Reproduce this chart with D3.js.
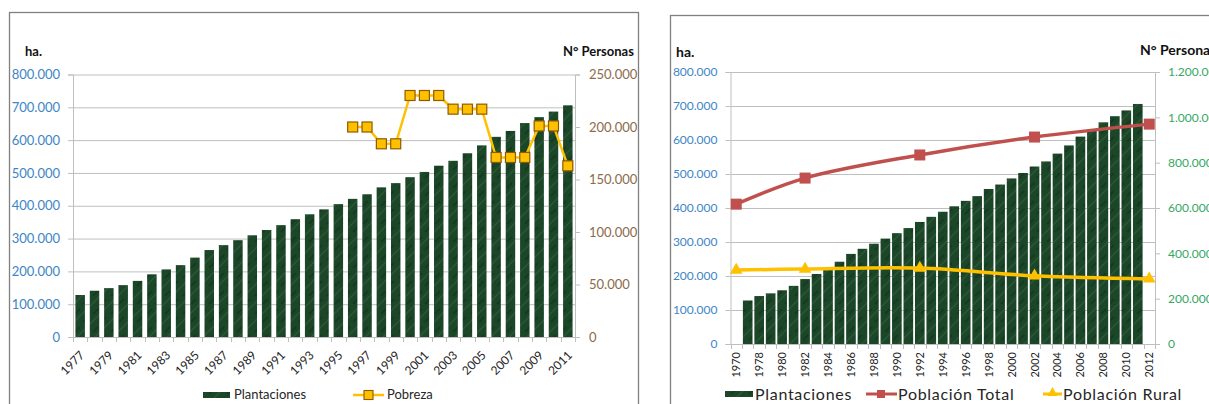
<!DOCTYPE html>
<html>
<head>
<meta charset="utf-8">
<script src="https://cdn.jsdelivr.net/npm/d3@7"></script>
<style>
body { margin: 0; background: #fff; }
svg { font-family: Lato, "Open Sans", sans-serif; display: block; }
</style>
</head>
<body>
<svg id="chart" width="1209" height="404"></svg>
<script>

// ---- data ----
var aYearsLeft = ['1977','1978','1979','1980','1981','1982','1983','1984','1985','1986','1987','1988',
	'1989','1990','1991','1992','1993','1994','1995','1996','1997','1998','1999','2000','2001','2002',
	'2003','2004','2005','2006','2007','2008','2009','2010','2011'];

var aPlantaciones = [128000,141000,149000,158000,171000,191000,206000,219000,242000,265000,280000,295000,
	310000,326000,341000,359000,374000,389000,405000,421000,435000,456000,469000,487000,503000,522000,
	537000,560000,584000,610000,628000,652000,670000,687000,706000];

var aPobrezaYears = ['1996','1997','1998','1999','2000','2001','2002','2003','2004','2005','2006','2007',
	'2008','2009','2010','2011'];
var aPobreza = [200000,200000,184000,184000,230000,230000,230000,217000,217000,217000,171000,171000,
	171000,201000,201000,163000];

var aYearsRight = ['1970','1977','1978','1979','1980','1981','1982','1983','1984','1985','1986','1987','1988',
	'1989','1990','1991','1992','1993','1994','1995','1996','1997','1998','1999','2000','2001','2002',
	'2003','2004','2005','2006','2007','2008','2009','2010','2011','2012'];

var aCensusYears = ['1970','1982','1992','2002','2012'];
var aPoblacionTotal = [617000,732000,834000,913000,970000];
var aPoblacionRural = [326000,331000,335000,301000,287000];

var aTicksHa = [0,100000,200000,300000,400000,500000,600000,700000,800000];
var aTicksPobreza = [0,50000,100000,150000,200000,250000];
var aTicksPersonas = [0,200000,400000,600000,800000,1000000,1200000];

// ---- setup ----
var sSvg = d3.select('#chart');
var fmt = d3.formatLocale({decimal: ',', thousands: '.', grouping: [3], currency: ['', '']}).format(',.0f');

const strGrid = '#bfbfbf';
const strAxis = '#bfbfbf';
const strBlue = '#3d85c6';
const strBrown = '#8c6a4a';
const strGreenText = '#35a765';
const strGold = '#ffc000';
const strRed = '#c0504d';
const strLegendText = '#262626';

var sDefs = sSvg.append('defs');
var sPattern = sDefs.append('pattern')
	.attr('id', 'texture')
	.attr('patternUnits', 'userSpaceOnUse')
	.attr('width', 18)
	.attr('height', 18);
sPattern.append('rect').attr('width', 18).attr('height', 18).attr('fill', '#1c4628');
sPattern.append('path')
	.attr('d', 'M0,18 L18,0 M-4,4 L4,-4 M14,22 L22,14')
	.attr('stroke', '#3d6e4a').attr('stroke-width', 1.5).attr('opacity', 0.4);
sPattern.append('path')
	.attr('d', 'M3,8 L8,3 M11,16 L16,11')
	.attr('stroke', '#0e2e17').attr('stroke-width', 2.2).attr('opacity', 0.5);

function DrawGrid(sG, scaleY, aTicks, nX1, nX2)
{
	sG.append('g')
		.selectAll('line')
		.data(aTicks)
		.enter()
		.append('line')
			.attr('x1', nX1)
			.attr('x2', nX2)
			.attr('y1', function(d) { return scaleY(d) + 0.5; })
			.attr('y2', function(d) { return scaleY(d) + 0.5; })
			.attr('stroke', strGrid)
			.attr('stroke-width', 1);
}

function StyleAxis(sAxis, strColor, nFontSize)
{
	sAxis.select('.domain').attr('stroke', strAxis);
	sAxis.selectAll('.tick line').attr('stroke', strAxis);
	sAxis.selectAll('.tick text')
		.attr('fill', strColor)
		.style('font-size', nFontSize + 'px')
		.style('font-family', 'Lato, "Open Sans", sans-serif');
}

function DrawCategoryTicks(sG, scaleX, nY)
{
	var nStep = scaleX.step();
	var nX0 = scaleX.range()[0];
	var aIdx = d3.range(scaleX.domain().length + 1);
	sG.append('g')
		.selectAll('line')
		.data(aIdx)
		.enter()
		.append('line')
			.attr('x1', function(i) { return Math.round(nX0 + i * nStep) + 0.5; })
			.attr('x2', function(i) { return Math.round(nX0 + i * nStep) + 0.5; })
			.attr('y1', nY)
			.attr('y2', nY + 5)
			.attr('stroke', strAxis);
	sG.append('line')
		.attr('x1', scaleX.range()[0])
		.attr('x2', scaleX.range()[1])
		.attr('y1', nY + 0.5)
		.attr('y2', nY + 0.5)
		.attr('stroke', strAxis);
}

// =========================== left chart ===========================
var sLeft = sSvg.append('g').attr('class', 'chart-left');

sLeft.append('rect')
	.attr('x', 9.5).attr('y', 12.5)
	.attr('width', 629).attr('height', 440)
	.attr('fill', 'none')
	.attr('stroke', '#808080')
	.attr('stroke-width', 1.3);

var nL_X1 = 73, nL_X2 = 575, nL_Top = 74.5, nL_Bottom = 337;

var scaleXL = d3.scaleBand()
	.domain(aYearsLeft)
	.range([nL_X1, nL_X2])
	.paddingInner(0.34)
	.paddingOuter(0.17);

var scaleYL = d3.scaleLinear().domain([0, 800000]).range([nL_Bottom, nL_Top]);
var scaleYL2 = d3.scaleLinear().domain([0, 250000]).range([nL_Bottom, nL_Top]);

DrawGrid(sLeft, scaleYL, aTicksHa.slice(1), nL_X1, nL_X2);

var sAxisYL = sLeft.append('g')
	.attr('transform', 'translate(' + nL_X1 + ',0)')
	.call(d3.axisLeft(scaleYL).tickValues(aTicksHa).tickFormat(fmt).tickSize(5).tickPadding(8));
StyleAxis(sAxisYL, strBlue, 13);

var sAxisYL2 = sLeft.append('g')
	.attr('transform', 'translate(' + nL_X2 + ',0)')
	.call(d3.axisRight(scaleYL2).tickValues(aTicksPobreza).tickFormat(fmt).tickSize(5).tickPadding(9));
StyleAxis(sAxisYL2, strBrown, 13);

sLeft.append('g')
	.selectAll('rect')
	.data(aPlantaciones)
	.enter()
	.append('rect')
		.attr('x', function(d, i) { return scaleXL(aYearsLeft[i]); })
		.attr('y', function(d) { return scaleYL(d); })
		.attr('width', scaleXL.bandwidth())
		.attr('height', function(d) { return scaleYL(0) - scaleYL(d); })
		.attr('fill', 'url(#texture)');

DrawCategoryTicks(sLeft, scaleXL, nL_Bottom);

sLeft.append('g')
	.selectAll('text')
	.data(aYearsLeft.filter(function(d, i) { return i % 2 == 0; }))
	.enter()
	.append('text')
		.attr('transform', function(d)
			{
				return 'translate(' + (scaleXL(d) + scaleXL.bandwidth() / 2 + 5) + ',' + (nL_Bottom + 19) + ') rotate(-45)';
			})
		.attr('text-anchor', 'end')
		.attr('fill', strLegendText)
		.style('font-size', '12px')
		.text(function(d) { return d; });

var linePobreza = d3.line()
	.x(function(d, i) { return scaleXL(aPobrezaYears[i]) + scaleXL.bandwidth() / 2; })
	.y(function(d) { return scaleYL2(d); });

sLeft.append('path')
	.datum(aPobreza)
	.attr('d', linePobreza)
	.attr('fill', 'none')
	.attr('stroke', strGold)
	.attr('stroke-width', 2.5);

sLeft.append('g')
	.selectAll('rect')
	.data(aPobreza)
	.enter()
	.append('rect')
		.attr('x', function(d, i) { return scaleXL(aPobrezaYears[i]) + scaleXL.bandwidth() / 2 - 5; })
		.attr('y', function(d) { return scaleYL2(d) - 5; })
		.attr('width', 10)
		.attr('height', 10)
		.attr('fill', strGold)
		.attr('stroke', '#8f5a00')
		.attr('stroke-width', 1.2);

sLeft.append('text')
	.attr('x', 25).attr('y', 56)
	.attr('font-weight', 'bold')
	.attr('fill', '#111')
	.style('font-size', '13px')
	.text('ha.');

sLeft.append('text')
	.attr('x', 563).attr('y', 56)
	.attr('font-weight', 'bold')
	.attr('fill', '#111')
	.style('font-size', '13px')
	.text('N° Personas');

// legend
sLeft.append('rect')
	.attr('x', 203).attr('y', 392)
	.attr('width', 27).attr('height', 6)
	.attr('fill', 'url(#texture)');
sLeft.append('text')
	.attr('x', 234).attr('y', 399)
	.attr('fill', strLegendText)
	.style('font-size', '13px')
	.text('Plantaciones');
sLeft.append('line')
	.attr('x1', 353).attr('x2', 384)
	.attr('y1', 395).attr('y2', 395)
	.attr('stroke', strGold).attr('stroke-width', 2.5);
sLeft.append('rect')
	.attr('x', 364).attr('y', 390.5)
	.attr('width', 9).attr('height', 9)
	.attr('fill', strGold).attr('stroke', '#8f5a00').attr('stroke-width', 1.1);
sLeft.append('text')
	.attr('x', 387).attr('y', 399)
	.attr('fill', strLegendText)
	.style('font-size', '13px')
	.text('Pobreza');

// =========================== right chart ===========================
var sRight = sSvg.append('g').attr('class', 'chart-right');

sRight.append('rect')
	.attr('x', 670.5).attr('y', 15.5)
	.attr('width', 600).attr('height', 440)
	.attr('fill', 'none')
	.attr('stroke', '#808080')
	.attr('stroke-width', 1.3);

var nR_X1 = 730.5, nR_X2 = 1155, nR_Top = 72, nR_Bottom = 344;

var scaleXR = d3.scaleBand()
	.domain(aYearsRight)
	.range([nR_X1, nR_X2])
	.paddingInner(0.16)
	.paddingOuter(0.08);

var scaleYR = d3.scaleLinear().domain([0, 800000]).range([nR_Bottom, nR_Top]);
var scaleYR2 = d3.scaleLinear().domain([0, 1200000]).range([nR_Bottom, nR_Top]);

DrawGrid(sRight, scaleYR, aTicksHa.slice(1), nR_X1, nR_X2);

var sAxisYR = sRight.append('g')
	.attr('transform', 'translate(' + nR_X1 + ',0)')
	.call(d3.axisLeft(scaleYR).tickValues(aTicksHa).tickFormat(fmt).tickSize(5).tickPadding(8));
StyleAxis(sAxisYR, strBlue, 12);

var sAxisYR2 = sRight.append('g')
	.attr('transform', 'translate(' + nR_X2 + ',0)')
	.call(d3.axisRight(scaleYR2).tickValues(aTicksPersonas).tickFormat(fmt).tickSize(5).tickPadding(8));
StyleAxis(sAxisYR2, strGreenText, 12);

sRight.append('g')
	.selectAll('rect')
	.data(aPlantaciones)
	.enter()
	.append('rect')
		.attr('x', function(d, i) { return scaleXR(aYearsLeft[i]); })
		.attr('y', function(d) { return scaleYR(d); })
		.attr('width', scaleXR.bandwidth())
		.attr('height', function(d) { return scaleYR(0) - scaleYR(d); })
		.attr('fill', 'url(#texture)');

DrawCategoryTicks(sRight, scaleXR, nR_Bottom);

sRight.append('g')
	.selectAll('text')
	.data(aYearsRight.filter(function(d, i) { return i % 2 == 0; }))
	.enter()
	.append('text')
		.attr('transform', function(d)
			{
				return 'translate(' + (scaleXR(d) + scaleXR.bandwidth() / 2 + 4) + ',' + (nR_Bottom + 8) + ') rotate(-90)';
			})
		.attr('text-anchor', 'end')
		.attr('fill', strLegendText)
		.style('font-size', '11px')
		.text(function(d) { return d; });

function CensusX(d, i)
{
	return scaleXR(aCensusYears[i]) + scaleXR.bandwidth() / 2;
}

var lineTotal = d3.line()
	.x(CensusX)
	.y(function(d) { return scaleYR2(d); })
	.curve(d3.curveCatmullRom.alpha(0.5));

sRight.append('path')
	.datum(aPoblacionTotal)
	.attr('d', lineTotal)
	.attr('fill', 'none')
	.attr('stroke', strRed)
	.attr('stroke-width', 3.5);

sRight.append('g')
	.selectAll('rect')
	.data(aPoblacionTotal)
	.enter()
	.append('rect')
		.attr('x', function(d, i) { return CensusX(d, i) - 5.5; })
		.attr('y', function(d) { return scaleYR2(d) - 5.5; })
		.attr('width', 11)
		.attr('height', 11)
		.attr('fill', strRed);

var lineRural = d3.line()
	.x(CensusX)
	.y(function(d) { return scaleYR2(d); })
	.curve(d3.curveCatmullRom.alpha(0.5));

sRight.append('path')
	.datum(aPoblacionRural)
	.attr('d', lineRural)
	.attr('fill', 'none')
	.attr('stroke', strGold)
	.attr('stroke-width', 3.5);

var symTri = d3.symbol().type(d3.symbolTriangle).size(70);
sRight.append('g')
	.selectAll('path')
	.data(aPoblacionRural)
	.enter()
	.append('path')
		.attr('transform', function(d, i) { return 'translate(' + CensusX(d, i) + ',' + scaleYR2(d) + ')'; })
		.attr('d', symTri)
		.attr('fill', strGold);

sRight.append('text')
	.attr('x', 676).attr('y', 57)
	.attr('font-weight', 'bold')
	.attr('fill', '#111')
	.style('font-size', '14px')
	.text('ha.');

sRight.append('text')
	.attr('x', 1140).attr('y', 55)
	.attr('font-weight', 'bold')
	.attr('fill', '#111')
	.style('font-size', '14px')
	.text('N° Personas');

// legend
sRight.append('rect')
	.attr('x', 725).attr('y', 391)
	.attr('width', 28).attr('height', 6)
	.attr('fill', 'url(#texture)');
sRight.append('text')
	.attr('x', 755).attr('y', 400)
	.attr('fill', strLegendText)
	.style('font-size', '16px')
	.style('letter-spacing', '0.7px')
	.text('Plantaciones');
sRight.append('line')
	.attr('x1', 866).attr('x2', 897)
	.attr('y1', 394).attr('y2', 394)
	.attr('stroke', strRed).attr('stroke-width', 3);
sRight.append('rect')
	.attr('x', 877).attr('y', 390)
	.attr('width', 8).attr('height', 8)
	.attr('fill', strRed);
sRight.append('text')
	.attr('x', 898).attr('y', 400)
	.attr('fill', strLegendText)
	.style('font-size', '16px')
	.style('letter-spacing', '0.7px')
	.text('Población Total');
sRight.append('line')
	.attr('x1', 1043).attr('x2', 1062)
	.attr('y1', 394).attr('y2', 394)
	.attr('stroke', strGold).attr('stroke-width', 3);
sRight.append('path')
	.attr('transform', 'translate(1052.5,393)')
	.attr('d', d3.symbol().type(d3.symbolTriangle).size(45))
	.attr('fill', strGold);
sRight.append('text')
	.attr('x', 1063).attr('y', 400)
	.attr('fill', strLegendText)
	.style('font-size', '16px')
	.style('letter-spacing', '0.7px')
	.text('Población Rural');

</script>
</body>
</html>
